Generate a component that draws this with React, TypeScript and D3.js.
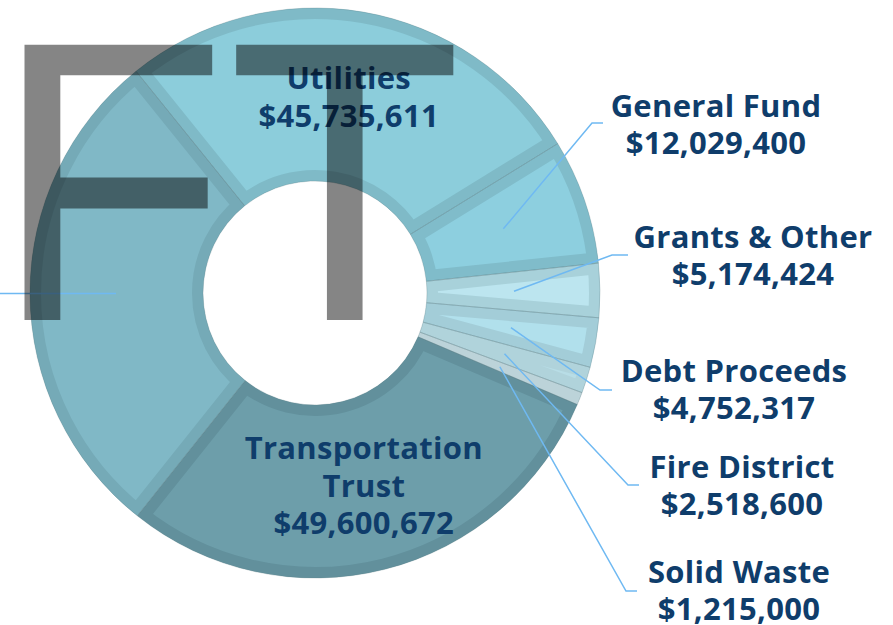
import * as d3 from "d3";

// fund names and amounts, clockwise from the top
const funds = [
  "Utilities",
  "General Fund",
  "Grants & Other",
  "Debt Proceeds",
  "Fire District",
  "Solid Waste",
  "Transportation Trust",
  "Other Revenue", // label is cut off on the left edge
];
const amounts = [45735611, 12029400, 5174424, 4752317, 2518600, 1215000, 49600672, 48200000];

const fills = ["#8ccddb", "#8dcfdf", "#bce5ef", "#b1e0ec", "#b8dde6", "#c4dadf", "#6d9eaa", "#80b8c6"];
const borders = ["#7fbac7", "#80bcca", "#a8d1da", "#a3cdd8", "#b0d3db", "#bcd3d9", "#62909c", "#75aab7"];

// which labels sit inside their slice (split over lines)
const insideLines: Record<string, string[]> = {
  "Utilities": ["Utilities"],
  "Transportation Trust": ["Transportation", "Trust"],
};

// outside labels: elbow of the leader, its end, text centre and first baseline
const outsideLayout: Record<string, { ex: number; ey: number; hx: number; tx: number; ty: number }> = {
  "General Fund": { ex: 592, ey: 123, hx: 603, tx: 716, ty: 117 },
  "Grants & Other": { ex: 612, ey: 255, hx: 628, tx: 753, ty: 248 },
  "Debt Proceeds": { ex: 600, ey: 390, hx: 612, tx: 734, ty: 382 },
  "Fire District": { ex: 628, ey: 485, hx: 639, tx: 742, ty: 478 },
  "Solid Waste": { ex: 626, ey: 591, hx: 637, tx: 739, ty: 583 },
};

const W = 893;
const H = 625;
const cx = 315;
const cy = 293;
const outerR = 285;
const innerR = 112;
const lineH = 37.5;
const textColor = "#0f3d6b";
const leaderColor = "#6fb9f2";

const fmt = (v: number) => "$" + d3.format(",")(v);

export default function App() {
  const start = (-38.9 * Math.PI) / 180;
  const pie = d3
    .pie<number>()
    .sort(null)
    .value((d) => d)
    .startAngle(start)
    .endAngle(start + 2 * Math.PI);
  const arcs = pie(amounts);
  const arc = d3.arc<d3.PieArcDatum<number>>().innerRadius(innerR).outerRadius(outerR);
  const mid = d3.arc<d3.PieArcDatum<number>>().innerRadius(199).outerRadius(199);

  return (
    <svg
      width={W}
      height={H}
      style={{ position: "absolute", left: 0, top: 0, background: "#fff" }}
      fontFamily="'Open Sans', sans-serif"
      fontWeight={700}
    >
      <defs>
        {arcs.map((a, i) => (
          <clipPath id={"slice" + i} key={i}>
            <path d={arc(a) || ""} />
          </clipPath>
        ))}
      </defs>

      <g transform={`translate(${cx},${cy})`}>
        {arcs.map((a, i) => (
          <path
            key={i}
            d={arc(a) || ""}
            fill={fills[i]}
            stroke={borders[i]}
            strokeWidth={22}
            clipPath={`url(#slice${i})`}
          />
        ))}
        {arcs.map((a, i) => (
          <path
            key={"o" + i}
            d={arc(a) || ""}
            fill="none"
            stroke="#5e7e87"
            strokeWidth={0.6}
            strokeOpacity={0.5}
          />
        ))}
      </g>

      {/* leader lines */}
      {arcs.map((a, i) => {
        const name = funds[i];
        const [mx, my] = mid.centroid(a);
        const lay = outsideLayout[name];
        if (lay) {
          return (
            <polyline
              key={"l" + i}
              points={`${cx + mx},${cy + my} ${lay.ex},${lay.ey} ${lay.hx},${lay.ey}`}
              fill="none"
              stroke={leaderColor}
              strokeWidth={1.5}
            />
          );
        }
        if (!insideLines[name]) {
          return (
            <line
              key={"l" + i}
              x1={cx + mx}
              y1={cy + my}
              x2={0}
              y2={cy + my}
              stroke={leaderColor}
              strokeWidth={1.5}
            />
          );
        }
        return null;
      })}

      {/* labels */}
      {arcs.map((a, i) => {
        const name = funds[i];
        const lay = outsideLayout[name];
        const inside = insideLines[name];
        if (inside) {
          const [mx, my] = mid.centroid(a);
          const lines = [...inside, fmt(amounts[i])];
          const y0 = cy + my - ((lines.length - 1) * lineH) / 2 + 11;
          return (
            <text key={"t" + i} x={cx + mx} textAnchor="middle" fill={textColor} fontSize={31} letterSpacing={0.3}>
              {lines.map((s, j) => (
                <tspan key={j} x={cx + mx} y={y0 + j * lineH}>
                  {s}
                </tspan>
              ))}
            </text>
          );
        }
        if (lay) {
          return (
            <text key={"t" + i} textAnchor="middle" fill={textColor} fontSize={31} letterSpacing={0.3}>
              <tspan x={lay.tx} y={lay.ty}>
                {name}
              </tspan>
              <tspan x={lay.tx} y={lay.ty + 37}>
                {fmt(amounts[i])}
              </tspan>
            </text>
          );
        }
        return null;
      })}

      {/* watermark */}
      <g transform="translate(-7,320) scale(1,1.042)">
        <text
          x={0}
          y={0}
          fontFamily="'Liberation Sans', Arial, sans-serif"
          fontWeight={400}
          fontSize={384}
          fill="#000"
          fillOpacity={0.48}
        >
          FT
        </text>
      </g>
    </svg>
  );
}
